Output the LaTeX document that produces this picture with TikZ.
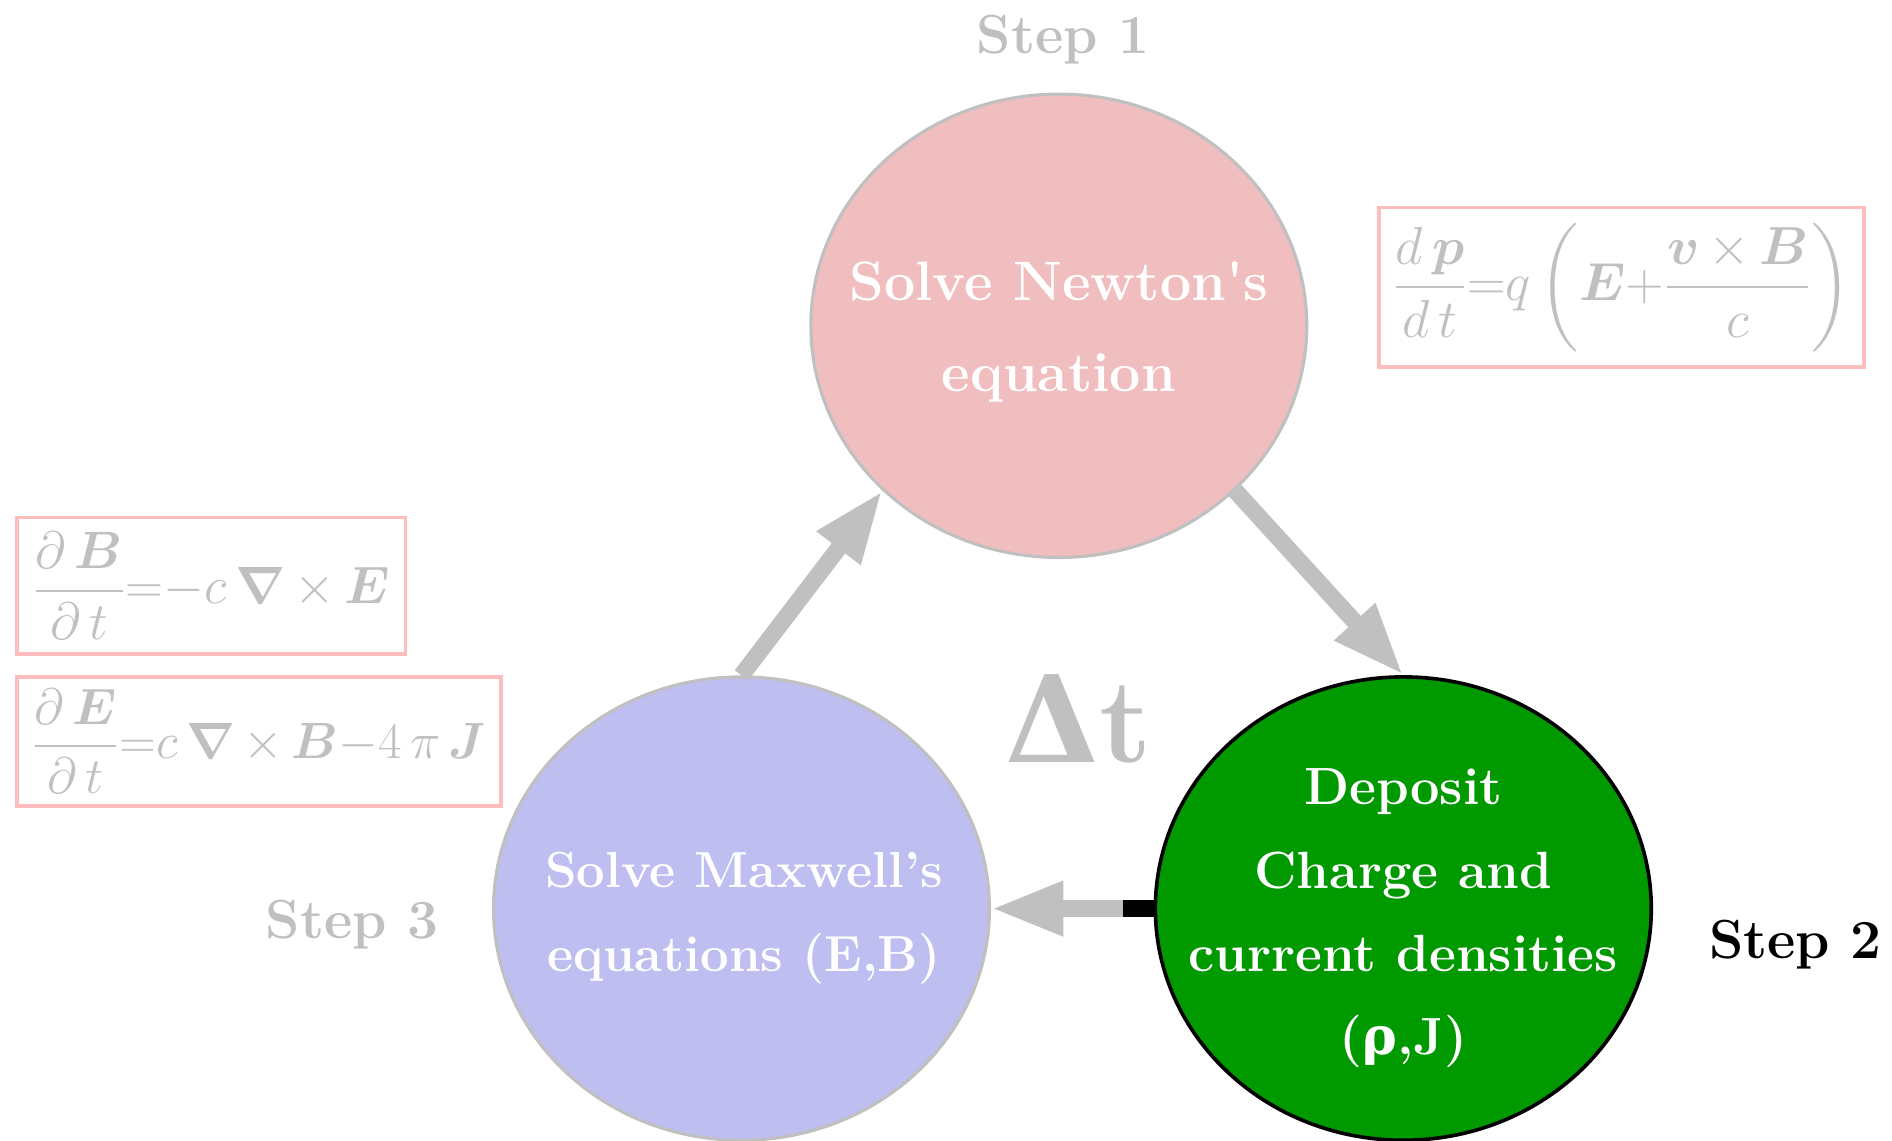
\documentclass[tikz,border=0pt]{standalone}
\usepackage{fontspec}
\usepackage{amsmath}
\usepackage{bm}
\usetikzlibrary{arrows.meta,shapes.geometric}
\newfontfamily\grkfont{DejaVu Serif}
\definecolor{lgray}{RGB}{192,192,192}
\definecolor{boxpink}{RGB}{255,190,190}
\definecolor{newtonfill}{RGB}{240,190,190}
\definecolor{maxfill}{RGB}{190,190,240}
\definecolor{depgreen}{RGB}{0,153,0}
\begin{document}
\begin{tikzpicture}[x=0.5pt,y=-0.5pt,
  stage/.style={ellipse, minimum width=205.5pt, minimum height=192pt, inner sep=0pt,
    line width=1.3pt},
  stagetext/.style={text=white, align=center, inner sep=0pt},
  stagefont/.style 2 args={font=\bfseries\fontsize{#1}{#2}\selectfont},
  eqbox/.style={draw=boxpink, line width=1.5pt, inner sep=0pt, text=lgray,
    font=\fontsize{20.74}{25}\selectfont},
  steplabel/.style={font=\bfseries\fontsize{22.8}{27}\selectfont, anchor=base},
  flow/.style={draw=lgray, line width=7pt, -{Triangle[length=30pt,width=21pt]}}]
\useasboundingbox (0,0) rectangle (1568,945);

% stages
\node[stage, draw=lgray, fill=newtonfill] (newton) at (877.5,270) {};
\node[stage, draw=black, line width=1.5pt, fill=depgreen] (green) at (1163,753) {};
\node[stage, draw=lgray, fill=maxfill] (maxwell) at (614.5,753) {};

\node[stagetext, stagefont={23}{37.5}] (newtonText) at ([yshift=-2.5pt]newton.center)
  {Solve Newton\textquotesingle s\\equation};
\node[stagetext, stagefont={21.7}{34.5}] (greenText) at ([yshift=-4pt]green.center)
  {Deposit\\Charge and\\current densities\\({\grkfont\bfseries ρ},J)};
\node[stagetext, stagefont={21}{35}] (maxwellText) at ([xshift=1pt,yshift=-4pt]maxwell.center)
  {Solve Maxwell’s\\ equations (E,B)};

% step labels
\node[steplabel, text=lgray] (s1) at (881,44) {Step 1};
\node[steplabel, text=black] (s2) at (1488,794) {Step 2};
\node[steplabel, text=lgray] (s3) at (292,778) {Step 3};

% delta t
\node[text=lgray, font=\bfseries\fontsize{50}{60}\selectfont, anchor=base] (dt) at (894,632)
  {{\grkfont\bfseries Δ}t};

% equation boxes
\node[eqbox, minimum width=201pt, minimum height=66pt] (eq1) at (1344,238)
  {\scalebox{1.07}{$\displaystyle \frac{d\,\bm{p}}{d\,t}{=}q\left(\bm{E}{+}\frac{\bm{v}\,{\times}\,\bm{B}}{c}\right)$}};
\node[eqbox, minimum width=161pt, minimum height=56.5pt] (eq2) at (175,485.5)
  {\scalebox{1.05}{$\displaystyle \frac{\partial\,\bm{B}}{\partial\,t}{=}{-}c\,\bm{\nabla}\,{\times}\,\bm{E}$}};
\node[eqbox, minimum width=200.5pt, minimum height=53.5pt] (eq3) at (214.5,614.5)
  {\scalebox{1.02}{$\displaystyle \frac{\partial\,\bm{E}}{\partial\,t}{=}c\,\bm{\nabla}\,{\times}\,\bm{B}{-}4\,\pi\,\bm{J}$}};

% connectors
\draw[flow] (newton.south east) -- (green.north);
\draw[flow] (green.west) -- (maxwell.east);
\draw[black, line width=7pt] (green.west) -- ++(-25,0);
\draw[flow] (maxwell.north) -- (newton.south west);
\end{tikzpicture}
\end{document}
